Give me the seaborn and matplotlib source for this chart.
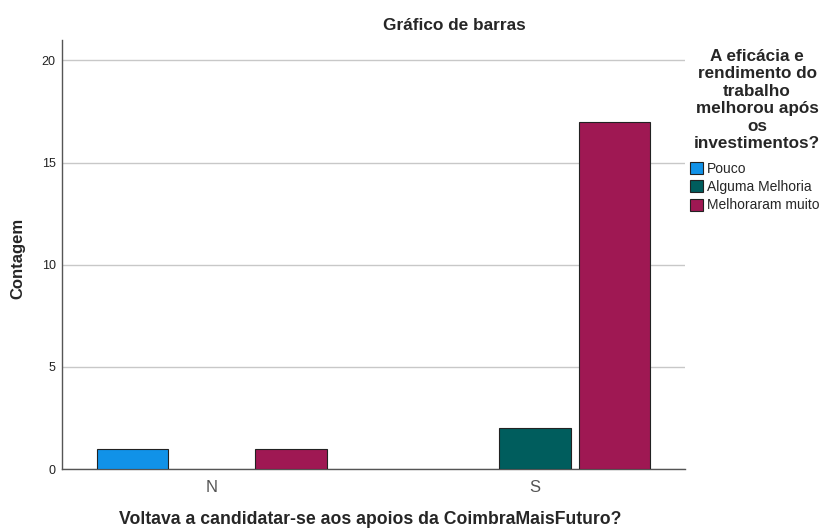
import pandas as pd
import matplotlib.pyplot as plt
import seaborn as sns

# Chart data
groups = ["N", "S"]
levels = ["Pouco", "Alguma Melhoria", "Melhoraram muito"]
counts_n = [1, 0, 1]
counts_s = [0, 2, 17]
colors = ["#1192e8", "#005d5d", "#9f1853"]

rows = []
for g, vals in zip(groups, [counts_n, counts_s]):
    for lvl, v in zip(levels, vals):
        rows.append({"grupo": g, "nivel": lvl, "contagem": v})
df = pd.DataFrame(rows)
df = df[df["contagem"] > 0]

sns.set_style("white")
plt.rcParams["font.family"] = ["Liberation Sans", "DejaVu Sans"]

fig = plt.figure(figsize=(8.22, 5.29), dpi=100)
ax = fig.add_axes([62 / 822, 1 - 469 / 529, (685 - 62) / 822, (469 - 40) / 529])

sns.barplot(data=df, x="grupo", y="contagem", hue="nivel", order=groups,
            hue_order=levels, palette=colors, width=0.734, gap=0.1,
            edgecolor="#222222", linewidth=0.8, saturation=1, ax=ax, zorder=3)

ax.set_xlim(-0.464, 1.464)
ax.set_ylim(0, 21)
ax.set_yticks([0, 5, 10, 15, 20])
ax.yaxis.grid(True, color="#c8c8c8", linewidth=1)
ax.set_axisbelow(True)
ax.tick_params(axis="y", length=0, pad=4.5, labelsize=9, labelcolor="#222222")
ax.tick_params(axis="x", length=0, pad=8, labelsize=12, labelcolor="#555555")
sns.despine(ax=ax)
for s in ["left", "bottom"]:
    ax.spines[s].set_color("#555555")
    ax.spines[s].set_linewidth(1)

ax.set_xlabel("")
ax.set_ylabel("")
fig.text(18 / 822, 1 - 258 / 529, "Contagem", rotation=90, ha="center", va="center",
         fontsize=12, fontweight="bold")
fig.text(370 / 822, 1 - 519 / 529, "Voltava a candidatar-se aos apoios da CoimbraMaisFuturo?",
         ha="center", va="center", fontsize=12.7, fontweight="bold")
fig.text(454 / 822, 1 - 25 / 529, "Gráfico de barras", ha="center", va="center",
         fontsize=12.4, fontweight="bold")

# Legend title drawn separately, entries below it
fig.text(757 / 822, 1 - 49 / 529,
         "A eficácia e\nrendimento do\ntrabalho\nmelhorou após\nos\ninvestimentos?",
         ha="center", va="top", multialignment="center", linespacing=1.2,
         fontsize=12.3, fontweight="bold")
leg = ax.legend(loc="upper left", bbox_to_anchor=(690 / 822, 1 - 162 / 529),
                bbox_transform=fig.transFigure, frameon=False, fontsize=10,
                handlelength=0.94, handleheight=0.94, handletextpad=0.25,
                labelspacing=0.3, borderaxespad=0, borderpad=0)

plt.savefig("out.png", dpi=100)
